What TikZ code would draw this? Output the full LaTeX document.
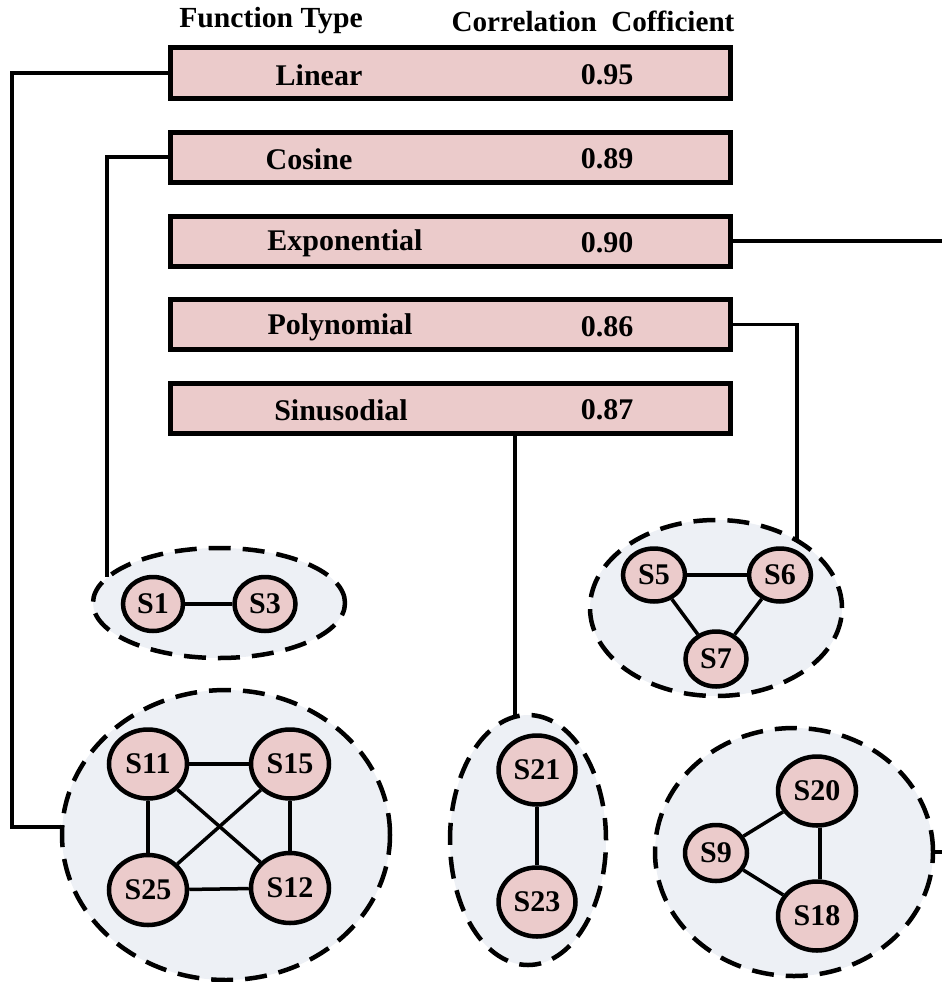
\documentclass[tikz,border=0pt]{standalone}
\usepackage{fontspec}
\setmainfont{Liberation Serif}
\newfontfamily\labelfont{Liberation Serif Bold}
\usetikzlibrary{shapes.geometric}
\definecolor{boxpink}{HTML}{EBCBCB}
\definecolor{clusterbg}{HTML}{EDF0F5}
\begin{document}
\begin{tikzpicture}[x=1pt,y=-1pt,
  fnbox/.style={draw, line width=5pt, fill=boxpink, minimum width=560pt, minimum height=50pt, inner sep=0pt},
  rowtext/.style={inner sep=0pt, font=\labelfont\fontsize{30}{30}\selectfont},
  headtext/.style={inner sep=0pt, font=\labelfont\fontsize{27}{27}\selectfont},
  cluster/.style={ellipse, draw, dash pattern=on 22pt off 12pt, line width=4.5pt, fill=clusterbg, inner sep=0pt},
  site/.style={ellipse, draw, line width=4.5pt, fill=boxpink, inner sep=0pt, font=\labelfont\fontsize{30}{30}\selectfont},
  link/.style={line width=3.5pt}]
\useasboundingbox (0,0) rectangle (942,982);

% column headings
\node[headtext] (hType) at (271,21) {\scalebox{1.1}[1.08]{Function Type}};
\node[headtext] (hCorr) at (593,21) {\scalebox{1.08}[1.08]{Correlation\ \ Cofficient}};

% function type rows
\node[fnbox] (b1) at (450.5,73) {};
\node[fnbox] (b2) at (450.5,157) {};
\node[fnbox] (b3) at (450.5,241) {};
\node[fnbox] (b4) at (450.5,324.5) {};
\node[fnbox] (b5) at (450.5,408.5) {};

\node[rowtext] (t1) at (319,75) {Linear};
\node[rowtext] (t2) at (309,159) {Cosine};
\node[rowtext] (t3) at (345,243) {Exponential};
\node[rowtext] (t4) at (340,327) {Polynomial};
\node[rowtext] (t5) at (341,410) {Sinusodial};

\node[rowtext] (v1) at (607,75) {0.95};
\node[rowtext] (v2) at (607,159) {0.89};
\node[rowtext] (v3) at (607,243) {0.90};
\node[rowtext] (v4) at (607,327) {0.86};
\node[rowtext] (v5) at (607,410) {0.87};

% clusters
\node[cluster, minimum width=252pt, minimum height=110pt] (cB) at (219,603) {};
\node[cluster, minimum width=252pt, minimum height=176pt] (cC) at (716,608) {};
\node[cluster, minimum width=328pt, minimum height=290pt] (cA) at (226,835) {};
\node[cluster, minimum width=156pt, minimum height=250pt] (cD) at (528,840) {};
\node[cluster, minimum width=278pt, minimum height=248pt] (cE) at (794,852) {};

% attachment points on the cluster outlines and at the right margin
\coordinate (cAin) at (62,827);
\coordinate (cBin) at (107,577);
\coordinate (cCin) at (797,540);
\coordinate (cDin) at (515,716);
\coordinate (edgeE) at (942,241);
\coordinate (edgeF) at (942,852);

% sites
\node[site, minimum width=60pt, minimum height=54pt] (s1) at (153,604) {S1};
\node[site, minimum width=61pt, minimum height=54pt] (s3) at (265,604) {S3};

\node[site, minimum width=78pt, minimum height=69pt] (s11) at (148,764) {S11};
\node[site, minimum width=78pt, minimum height=69pt] (s15) at (290,764) {S15};
\node[site, minimum width=78pt, minimum height=70pt] (s25) at (148,890) {S25};
\node[site, minimum width=78pt, minimum height=70pt] (s12) at (290,888) {S12};

\node[site, minimum width=62pt, minimum height=53pt] (s5) at (654,575) {S5};
\node[site, minimum width=62pt, minimum height=53pt] (s6) at (780,575) {S6};
\node[site, minimum width=61pt, minimum height=55pt] (s7) at (716,659) {S7};

\node[site, minimum width=77pt, minimum height=69pt] (s21) at (537,770) {S21};
\node[site, minimum width=77pt, minimum height=69pt] (s23) at (537,902) {S23};

\node[site, minimum width=78pt, minimum height=69pt] (s20) at (817,791) {S20};
\node[site, minimum width=62pt, minimum height=56pt] (s9) at (716,853) {S9};
\node[site, minimum width=78pt, minimum height=69pt] (s18) at (817,916) {S18};

% links inside clusters
\draw[link] (s1) -- (s3);
\draw[link] (s11) -- (s15);
\draw[link] (s11) -- (s25);
\draw[link] (s15) -- (s12);
\draw[link] (s11) -- (s12);
\draw[link] (s15) -- (s25);
\draw[link] (s25) -- (s12);
\draw[link] (s5) -- (s6);
\draw[link] (s5) -- (s7);
\draw[link] (s6) -- (s7);
\draw[link] (s21) -- (s23);
\draw[link] (s9) -- (s20);
\draw[link] (s9) -- (s18);
\draw[link] (s20.south) ++(3,0) -- (s18.north -| 820,0);

% connectors from rows to clusters
\draw[link] (b1.west) -| (12,827) -- (cAin);
\draw[link] (b2.west) -| (cBin);
\draw[link] (b3.east) -- (edgeE);
\draw[link] (b4.east) -| (cCin);
\draw[link] (b5.south -| cDin) -- (cDin);
\draw[link] (cE.east) -- (edgeF);
\end{tikzpicture}
\end{document}
